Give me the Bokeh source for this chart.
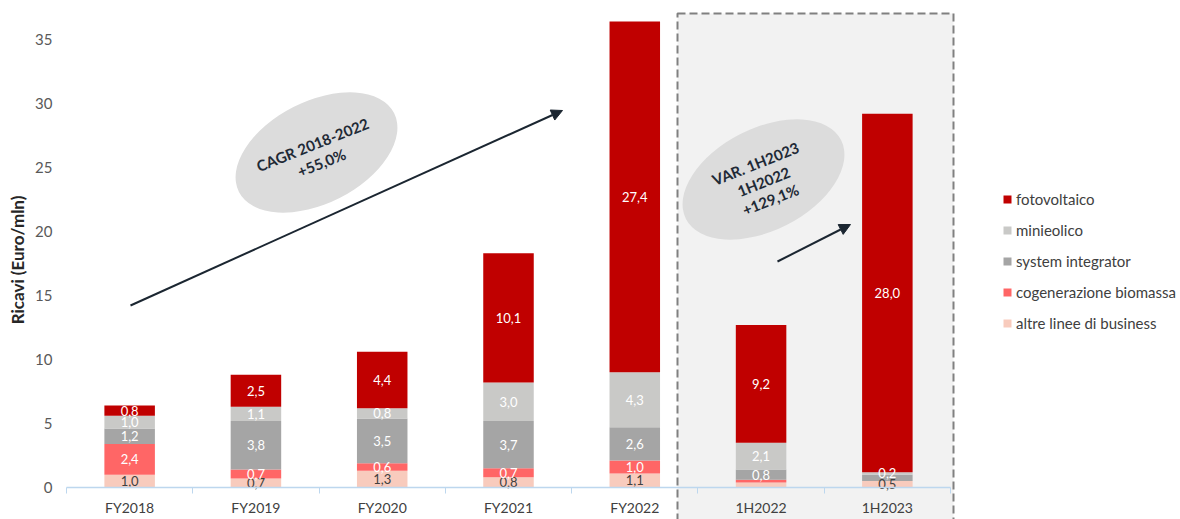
from bokeh.plotting import figure
from bokeh.models import ColumnDataSource, FixedTicker, Arrow, NormalHead, Range1d
from bokeh.core.properties import value
from bokeh.embed import file_html
from bokeh.resources import INLINE

categories = ["FY2018", "FY2019", "FY2020", "FY2021", "FY2022", "1H2022", "1H2023"]
altre = [1.0, 0.7, 1.3, 0.8, 1.1, 0.4, 0.5]
cogen = [2.4, 0.7, 0.6, 0.7, 1.0, 0.2, 0.0]
system = [1.2, 3.8, 3.5, 3.7, 2.6, 0.8, 0.5]
mini = [1.0, 1.1, 0.8, 3.0, 4.3, 2.1, 0.2]
foto = [0.8, 2.5, 4.4, 10.1, 27.4, 9.2, 28.0]
series_names = ["altre linee di business", "cogenerazione biomassa", "system integrator", "minieolico", "fotovoltaico"]
series_vals = [altre, cogen, system, mini, foto]
colors = ["#f8cbbd", "#ff6666", "#a5a5a5", "#c9c9c7", "#c00000"]
label_colors = ["#404040", "#ffffff", "#ffffff", "#ffffff", "#ffffff"]
hidden_labels = {("1H2022", 0), ("1H2022", 1), ("1H2023", 1), ("1H2023", 2)}
y_ticks = [0, 5, 10, 15, 20, 25, 30, 35]

FONT = "Lato"
W, H = 1180, 519
LEFT = 60
AX0, AX1 = 66, 950   # pixel span of the category band
Y0PX, PXU = 487, 12.8
ppx = (AX1 - AX0) / len(categories)

xs = [i + 0.5 for i in range(len(categories))]
data = {"x": xs}
keys = ["s%d" % i for i in range(len(series_vals))]
for k, v in zip(keys, series_vals):
    data[k] = v
src = ColumnDataSource(data)

p = figure(width=W, height=H, output_backend="svg", toolbar_location=None,
           x_range=Range1d(-(AX0 - LEFT) / ppx, (W - AX0) / ppx),
           y_range=Range1d(-(H - Y0PX) / PXU, Y0PX / PXU),
           min_border_left=LEFT, min_border_right=0, min_border_top=0, min_border_bottom=0)
p.outline_line_color = None
p.grid.visible = False
p.background_fill_color = "white"


def sx(px):
    return (px - AX0) / ppx


def sy(py):
    return (Y0PX - py) / PXU


# dashed highlight box for semester data
p.quad(left=[sx(677)], right=[sx(953)], top=[sy(13)], bottom=[-10],
       fill_color="#f2f2f2", line_color="#808080", line_width=2, line_dash="8 4")

rs = p.vbar_stack(keys, x="x", width=0.40, color=colors, source=src, line_color=None,
                  legend_label=series_names)

# segment labels
lx, ly, lt, lc = [], [], [], []
for ci, cat in enumerate(categories):
    base = 0.0
    for si, vals in enumerate(series_vals):
        v = vals[ci]
        if (cat, si) not in hidden_labels:
            lx.append(xs[ci])
            ly.append(base + v / 2)
            lt.append(("%.1f" % v).replace(".", ","))
            lc.append(label_colors[si])
        base += v
p.text(x=lx, y=ly, text=lt, text_color=lc, text_align="center", text_baseline="middle",
       text_font=value(FONT), text_font_size="13px")

# ellipses with growth annotations
ell_c = [(316, 152), (763, 179)]
p.ellipse(x=[sx(a) for a, b in ell_c], y=[sy(b) for a, b in ell_c],
          width=174, height=102, width_units="screen", height_units="screen",
          angle=0.47, fill_color="#dcdcdc", line_color=None)

ann_text = ["CAGR 2018-2022", "+55,0%", "VAR. 1H2023", "1H2022", "+129,1%"]
ann_pos = [(312, 144), (321, 162), (755, 163), (763, 181), (770, 199)]
p.text(x=[sx(a) for a, b in ann_pos], y=[sy(b) for a, b in ann_pos], text=ann_text,
       angle=0.38, text_align="center", text_baseline="middle", text_color="#1f2a36",
       text_font=value(FONT), text_font_size="15px", text_font_style="bold")

ac = "#1b2631"
for (x0, y0, x1, y1) in [(130, 305, 562, 110), (777, 261, 850, 224)]:
    p.add_layout(Arrow(end=NormalHead(size=11, fill_color=ac, line_color=ac),
                       x_start=sx(x0), y_start=sy(y0), x_end=sx(x1), y_end=sy(y1),
                       line_color=ac, line_width=2))

# axes
xa = p.xaxis[0]
xa.fixed_location = 0
xa.bounds = (0, len(categories))
xa.ticker = FixedTicker(ticks=xs, minor_ticks=list(range(len(categories) + 1)))
xa.major_label_overrides = {x: c for x, c in zip(xs, categories)}
xa.major_tick_line_color = None
xa.major_tick_out = 0
xa.major_tick_in = 0
xa.minor_tick_line_color = "#bdd7ee"
xa.minor_tick_in = 0
xa.minor_tick_out = 6
xa.axis_line_color = "#bdd7ee"
xa.axis_line_width = 1.5
xa.major_label_standoff = 5
xa.major_label_text_font = FONT
xa.major_label_text_font_size = "14px"
xa.major_label_text_color = "#404040"

ya = p.yaxis[0]
ya.ticker = FixedTicker(ticks=y_ticks)
ya.axis_line_color = None
ya.major_tick_line_color = None
ya.major_tick_out = 0
ya.major_tick_in = 0
ya.minor_tick_line_color = None
ya.major_label_standoff = 8
ya.major_label_text_font = FONT
ya.major_label_text_font_size = "15px"
ya.major_label_text_color = "#595959"
ya.axis_label = "Ricavi (Euro/mln)"
ya.axis_label_text_font = FONT
ya.axis_label_text_font_size = "17px"
ya.axis_label_text_font_style = "bold"
ya.axis_label_text_color = "#262626"
ya.axis_label_standoff = 4

lg = p.legend[0]
lg.items = list(reversed(lg.items))
lg.location = (1002 - LEFT, 186)
lg.background_fill_alpha = 0
lg.border_line_color = None
lg.padding = 0
lg.margin = 0
lg.spacing = 10
lg.glyph_width = 10
lg.glyph_height = 10
lg.label_standoff = 4
lg.label_text_font = FONT
lg.label_text_font_size = "15px"
lg.label_text_color = "#404040"
lg.label_height = 21

open("out.html", "w").write(file_html(p, INLINE))
